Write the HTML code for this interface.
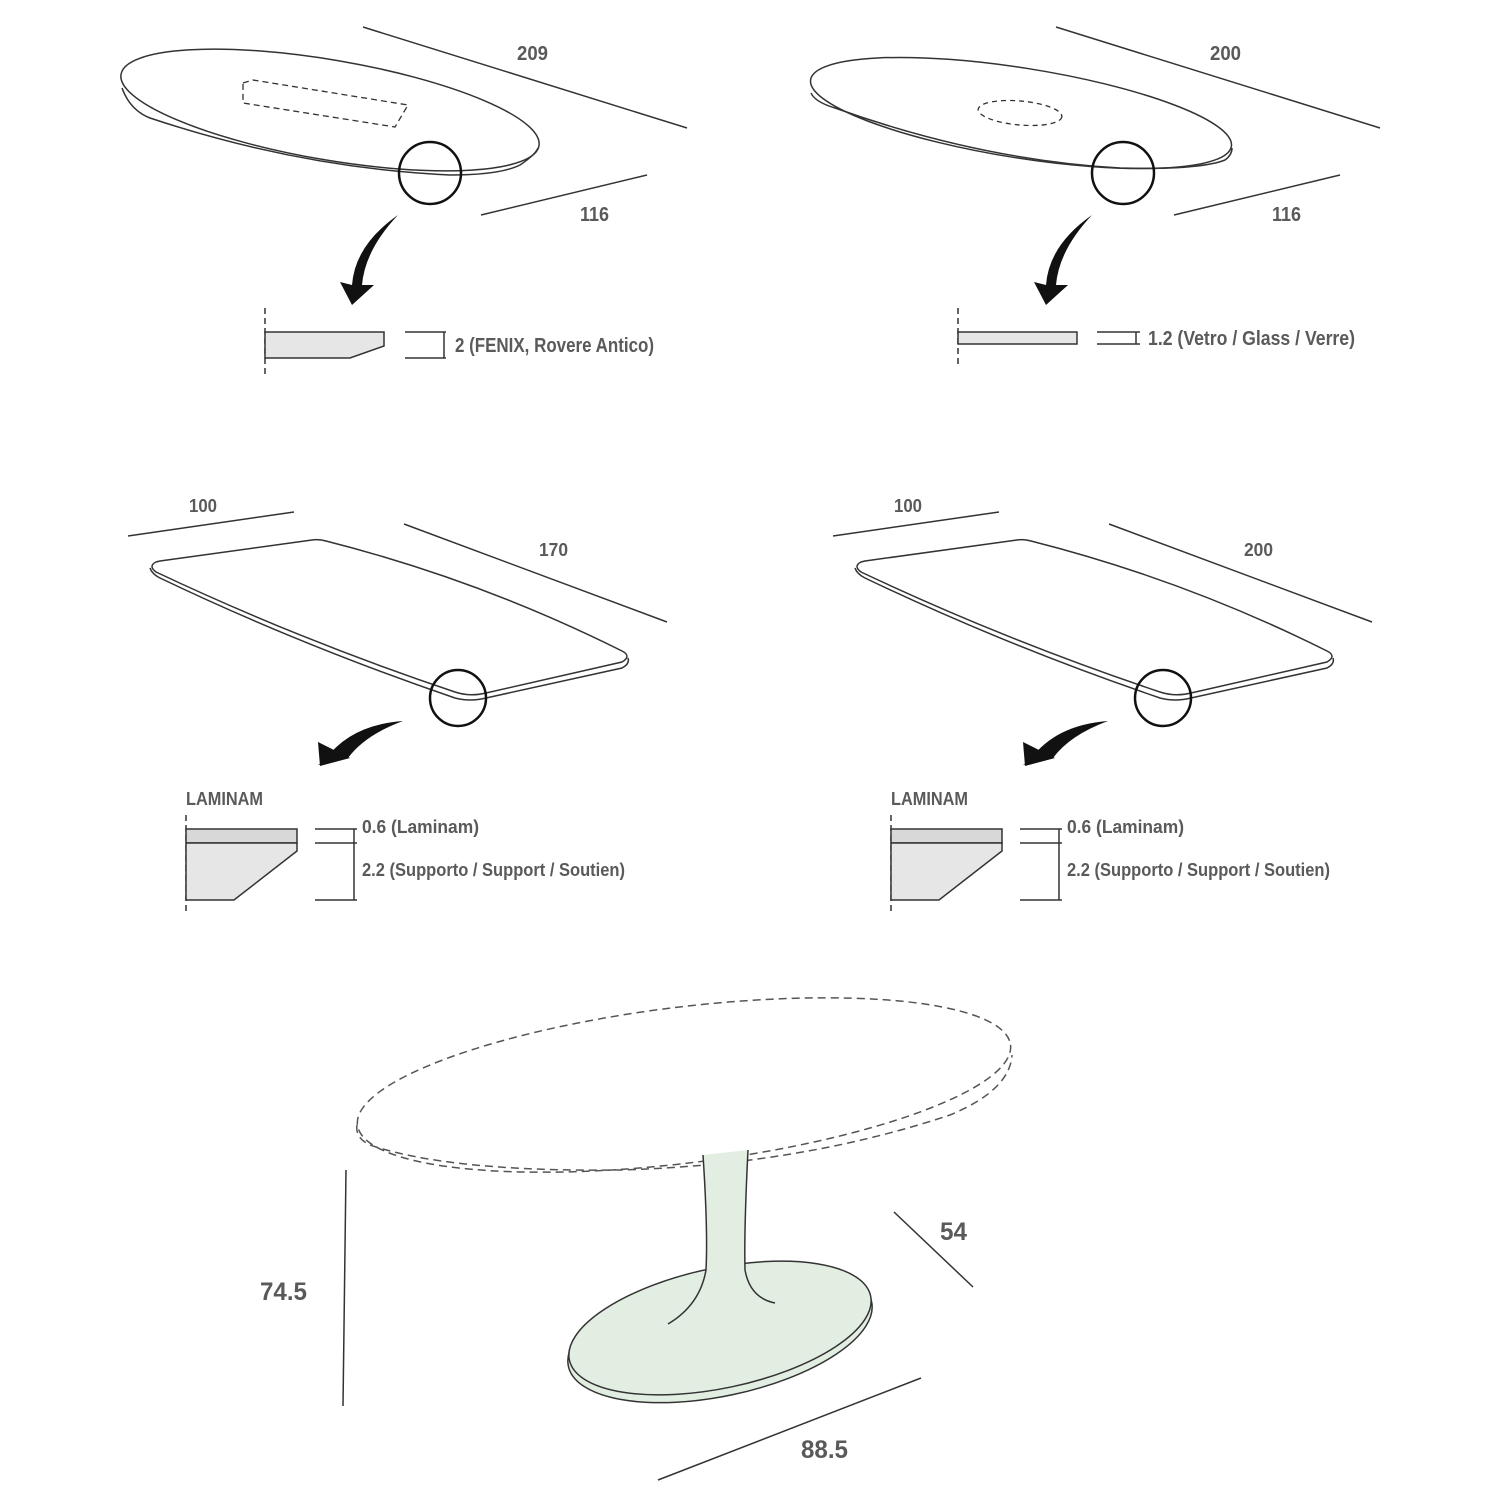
<!DOCTYPE html>
<html><head><meta charset="utf-8"><style>
html,body{margin:0;padding:0;background:#fff}
svg{display:block}
text{font-family:"Liberation Sans Narrow","Liberation Sans",sans-serif;font-weight:bold;fill:#5a5a5a}
</style></head><body>
<svg width="1500" height="1500" viewBox="0 0 1500 1500" xmlns="http://www.w3.org/2000/svg">
<g fill="none" stroke="#333" stroke-width="1.5">
<ellipse cx="330" cy="110" rx="212" ry="50" transform="rotate(9.7 330 110)" fill="#fff"/>
<path d="M122,88 Q130,110 150,118 Q300,168 450,175 Q500,175 520,165 Q535,155 538,148" />
<path d="M243,83 L253,80 L408,105 L395,127 L243,103 Z" stroke-dasharray="6,4" stroke-width="1.3"/>
<line x1="363" y1="27" x2="687" y2="128"/>
<line x1="481" y1="215" x2="647" y2="175"/>
<circle cx="430" cy="173" r="31" stroke="#111" stroke-width="2.5"/>
<ellipse cx="1021" cy="113" rx="213" ry="45" transform="rotate(9 1021 113)" fill="#fff"/>
<path d="M811,93 Q815,102 835,108 Q980,160 1120,168 Q1200,170 1225,160 Q1232,155 1232,148"/>
<ellipse cx="1020" cy="113" rx="42" ry="12" transform="rotate(5 1020 113)" stroke-dasharray="5,4" stroke-width="1.3"/>
<line x1="1056" y1="27" x2="1380" y2="128"/>
<line x1="1174" y1="215" x2="1340" y2="175"/>
<circle cx="1123" cy="173" r="31" stroke="#111" stroke-width="2.5"/>
<line x1="265" y1="308" x2="265" y2="378" stroke-dasharray="6,4"/>
<polygon points="265,332 384,332 384,346 350,358 265,358" fill="#e6e6e6"/>
<path d="M405,332H446M405,358H446M444,332V358"/>
<line x1="958" y1="308" x2="958" y2="366" stroke-dasharray="6,4"/>
<rect x="958" y="332" width="119" height="12" fill="#e6e6e6"/>
<path d="M1097,332H1140M1097,344H1140M1136,332V344"/>
<g id="ml">
<path d="M156,562 Q148,566 156,572 Q300,640 455,692 Q470,697 486,693 L622,662 Q632,656 622,651 Q480,580 326,541 Q319,539 312,540 L160,561 Z" fill="#fff"/>
<path d="M150,568 Q152,574 160,578 Q300,645 455,698 Q470,702 486,698 L622,668 Q630,664 628,658"/>
<circle cx="458" cy="698" r="28" stroke="#111" stroke-width="2.5"/>
<line x1="128" y1="536" x2="294" y2="512"/>
<line x1="404" y1="524" x2="667" y2="622"/>
<line x1="186" y1="815" x2="186" y2="913" stroke-dasharray="6,4"/>
<rect x="186" y="829" width="111" height="14" fill="#d8d8d8"/>
<polygon points="186,843 297,843 297,851 234,900 186,900" fill="#e6e6e6"/>
<path d="M315,829H357M315,843H357M315,900H357M354,829V900"/>
<path d="M403,721 Q350,725 325,760 L318,765 L348,758 Q365,735 403,721 Z" fill="#111" stroke="none"/>
<path d="M320,766 L318,742 L350,758 Z" fill="#111" stroke="none"/>
</g>
<use href="#ml" x="705"/>
<ellipse cx="684" cy="1085" rx="329" ry="78" transform="rotate(-7 684 1085)" stroke="#555" stroke-dasharray="8,5"/>
<path d="M357,1125 Q355,1138 370,1145 Q450,1172 620,1170 Q800,1165 950,1115 Q1010,1090 1012,1055" stroke="#555" stroke-dasharray="8,5"/>
<ellipse cx="720" cy="1334" rx="155" ry="62" transform="rotate(-12 720 1334)" fill="#e3eee3"/>
<ellipse cx="720" cy="1328" rx="154" ry="60" transform="rotate(-12 720 1328)" fill="#e3eee3"/>
<path d="M703,1155 Q708,1230 706,1270 Q700,1305 668,1324 L775,1303 Q750,1298 745,1270 Q744,1230 748,1150 Z" fill="#e3eee3" stroke="none"/>
<path d="M703,1155 Q708,1230 706,1270 Q700,1305 668,1324 M748,1150 Q744,1230 745,1270 Q750,1298 775,1303" />
<line x1="346" y1="1170" x2="343" y2="1406"/>
<line x1="894" y1="1212" x2="973" y2="1287"/>
<line x1="658" y1="1480" x2="921" y2="1378"/>
</g>
<path d="M398,215 Q355,245 352,285 L340,282 L352,305 L374,285 L362,285 Q365,250 398,215 Z" fill="#111"/>
<path d="M1092,215 Q1049,245 1046,285 L1034,282 L1046,305 L1068,285 L1056,285 Q1059,250 1092,215 Z" fill="#111"/>
<text x="517" y="60" font-size="20" textLength="31" lengthAdjust="spacingAndGlyphs">209</text>
<text x="580" y="221" font-size="20" textLength="29" lengthAdjust="spacingAndGlyphs">116</text>
<text x="455" y="352" font-size="20" textLength="199" lengthAdjust="spacingAndGlyphs">2 (FENIX, Rovere Antico)</text>
<text x="1210" y="60" font-size="20" textLength="31" lengthAdjust="spacingAndGlyphs">200</text>
<text x="1272" y="221" font-size="20" textLength="29" lengthAdjust="spacingAndGlyphs">116</text>
<text x="1148" y="345" font-size="20" textLength="207" lengthAdjust="spacingAndGlyphs">1.2 (Vetro / Glass / Verre)</text>
<text x="189" y="512" font-size="18" textLength="28" lengthAdjust="spacingAndGlyphs">100</text>
<text x="539" y="556" font-size="18" textLength="29" lengthAdjust="spacingAndGlyphs">170</text>
<text x="186" y="805" font-size="18" textLength="77" lengthAdjust="spacingAndGlyphs">LAMINAM</text>
<text x="362" y="833" font-size="18" textLength="117" lengthAdjust="spacingAndGlyphs">0.6 (Laminam)</text>
<text x="362" y="876" font-size="18" textLength="263" lengthAdjust="spacingAndGlyphs">2.2 (Supporto / Support / Soutien)</text>
<text x="894" y="512" font-size="18" textLength="28" lengthAdjust="spacingAndGlyphs">100</text>
<text x="1244" y="556" font-size="18" textLength="29" lengthAdjust="spacingAndGlyphs">200</text>
<text x="891" y="805" font-size="18" textLength="77" lengthAdjust="spacingAndGlyphs">LAMINAM</text>
<text x="1067" y="833" font-size="18" textLength="117" lengthAdjust="spacingAndGlyphs">0.6 (Laminam)</text>
<text x="1067" y="876" font-size="18" textLength="263" lengthAdjust="spacingAndGlyphs">2.2 (Supporto / Support / Soutien)</text>
<text x="260" y="1300" font-size="25" textLength="47" lengthAdjust="spacingAndGlyphs">74.5</text>
<text x="940" y="1240" font-size="25" textLength="27" lengthAdjust="spacingAndGlyphs">54</text>
<text x="801" y="1458" font-size="25" textLength="47" lengthAdjust="spacingAndGlyphs">88.5</text>
</svg>
</body></html>
